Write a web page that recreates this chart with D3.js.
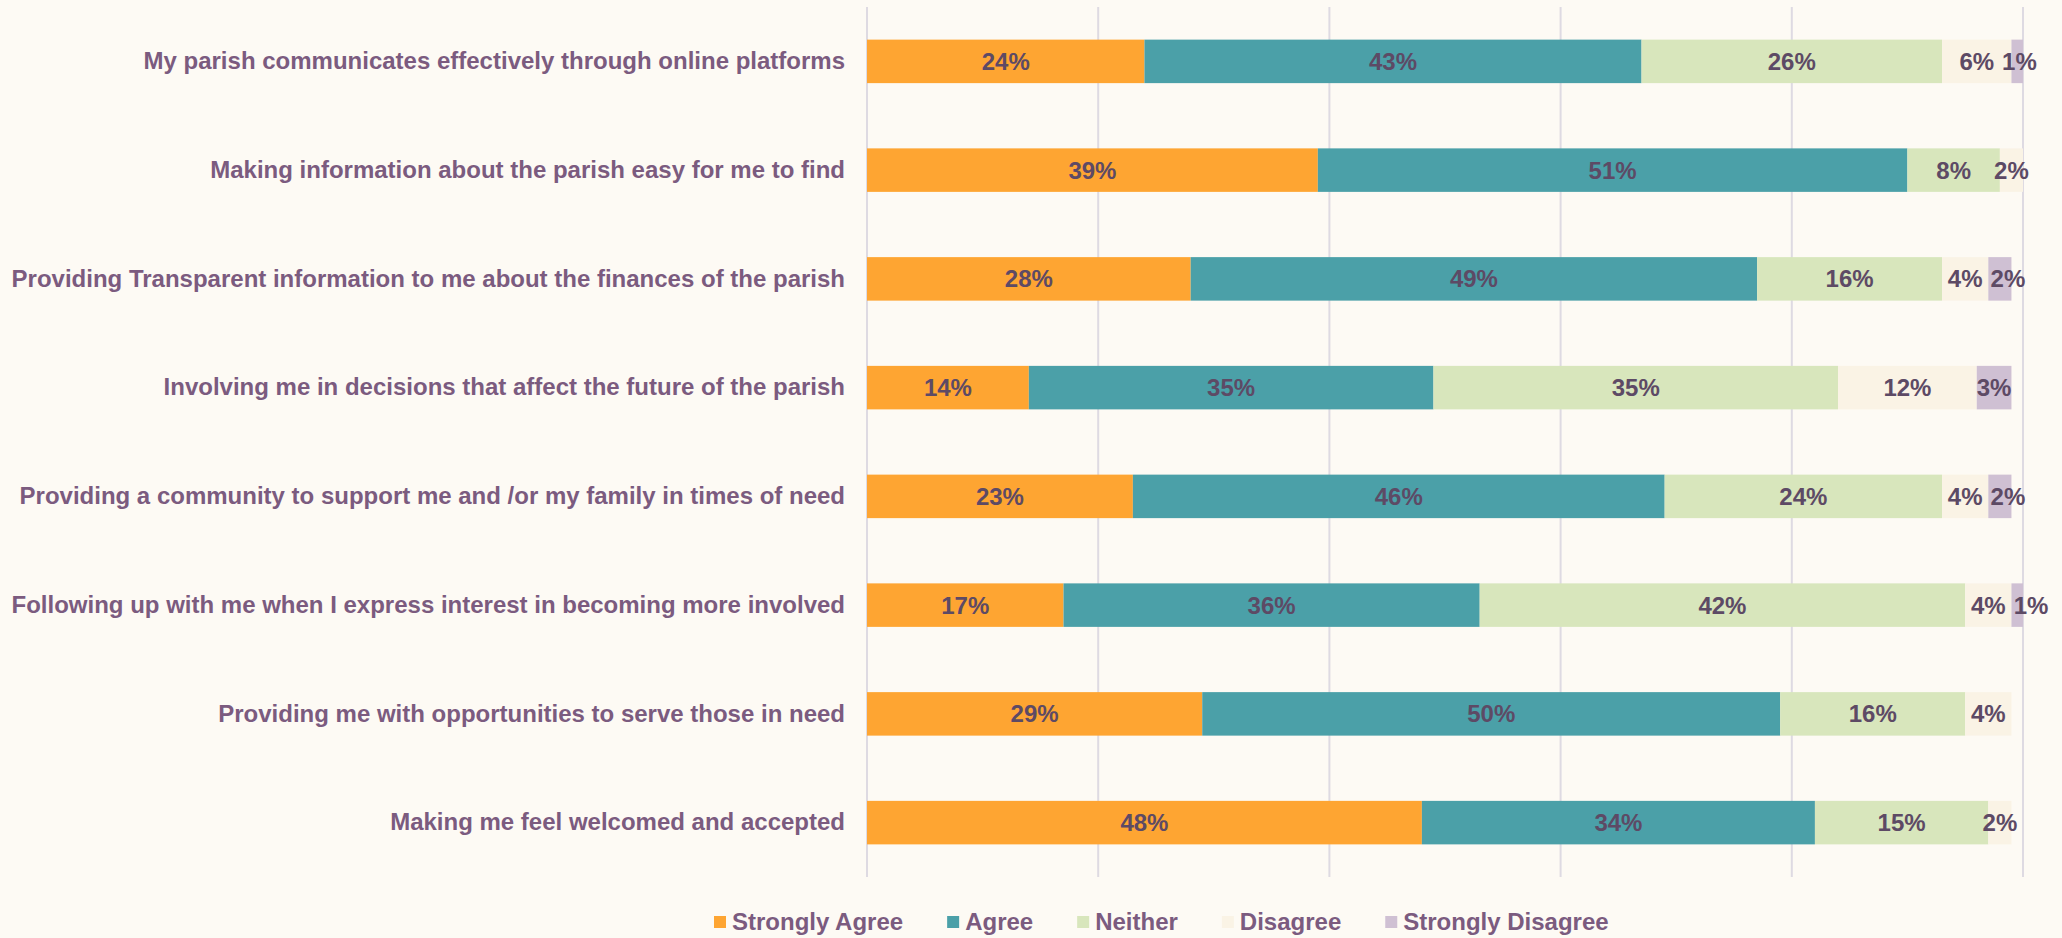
<!DOCTYPE html>
<html>
<head>
<meta charset="utf-8">
<script src="https://cdn.jsdelivr.net/npm/d3@7"></script>
<style>
	html, body { margin: 0; padding: 0; background: #fdfaf4; }
	svg { display: block; font-family: 'Liberation Sans', Arial, sans-serif; font-weight: bold; }
</style>
</head>
<body>
<div id="chart"></div>
<script>
const statements = [
	'My parish communicates effectively through online platforms',
	'Making information about the parish easy for me to find',
	'Providing Transparent information to me about the finances of the parish',
	'Involving me in decisions that affect the future of the parish',
	'Providing a community to support me and /or my family in times of need',
	'Following up with me when I express interest in becoming more involved',
	'Providing me with opportunities to serve those in need',
	'Making me feel welcomed and accepted'
];

const responses = ['Strongly Agree', 'Agree', 'Neither', 'Disagree', 'Strongly Disagree'];

const stronglyAgree = [24, 39, 28, 14, 23, 17, 29, 48];
const agree = [43, 51, 49, 35, 46, 36, 50, 34];
const neither = [26, 8, 16, 35, 24, 42, 16, 15];
const disagree = [6, 2, 4, 12, 4, 4, 4, 2];
const stronglyDisagree = [1, 0, 2, 3, 2, 1, 0, 0];

const colors = ['#fea532', '#4ba0a8', '#d8e6bc', '#faf3e5', '#cfc0d3'];

const width = 2062;
const height = 938;
const margin = { top: 7, right: 39, bottom: 61, left: 867 };

const series = [stronglyAgree, agree, neither, disagree, stronglyDisagree];

const rows = statements.map((s, i) => {
	const row = { statement: s };
	responses.forEach((r, k) => {
		row[r] = series[k][i];
	});
	return row;
});

const layers = d3.stack().keys(responses)(rows);

const svg = d3
	.select('#chart')
	.append('svg')
	.attr('width', width)
	.attr('height', height);

svg.append('rect').attr('width', width).attr('height', height).attr('fill', '#fdfaf4');

const x = d3
	.scaleLinear()
	.domain([0, 100])
	.range([margin.left, width - margin.right]);

const y = d3
	.scaleBand()
	.domain(statements)
	.range([margin.top, height - margin.bottom])
	.paddingInner(0.6)
	.paddingOuter(0.3);

// vertical gridlines every 20%
svg
	.append('g')
	.selectAll('line')
	.data(x.ticks(5))
	.enter()
	.append('line')
	.attr('x1', d => x(d))
	.attr('x2', d => x(d))
	.attr('y1', margin.top)
	.attr('y2', height - margin.bottom)
	.attr('stroke', '#dedae2')
	.attr('stroke-width', 2);

const groups = svg
	.append('g')
	.selectAll('g')
	.data(layers)
	.enter()
	.append('g')
	.attr('fill', (d, i) => colors[i]);

groups
	.selectAll('rect')
	.data(d => d)
	.enter()
	.append('rect')
	.attr('x', d => x(d[0]))
	.attr('y', d => y(d.data.statement))
	.attr('width', d => x(d[1]) - x(d[0]))
	.attr('height', y.bandwidth());

// value labels, centred in each segment, nudged right when they would collide
const labelLayer = svg.append('g');

rows.forEach((row, i) => {
	let prevEnd = -Infinity;

	layers.forEach(layer => {
		const d = layer[i];
		const value = row[layer.key];
		if (!value) return;

		const text = labelLayer
			.append('text')
			.attr('y', y(row.statement) + y.bandwidth() / 2)
			.attr('dy', '0.35em')
			.attr('text-anchor', 'middle')
			.attr('font-size', 24)
			.attr('fill', '#5d4a65')
			.text(`${value}%`);

		const w = text.node().getComputedTextLength();
		let cx = (x(d[0]) + x(d[1])) / 2;

		if (cx - w / 2 < prevEnd + 8) {
			cx = prevEnd + 8 + w / 2;
		}

		text.attr('x', cx);
		prevEnd = cx + w / 2;
	});
});

// category labels
const yAxis = d3.axisLeft(y).tickSize(0).tickPadding(22);

svg
	.append('g')
	.attr('transform', `translate(${margin.left},0)`)
	.call(yAxis)
	.call(g => g.select('.domain').remove())
	.selectAll('text')
	.attr('font-size', 24)
	.attr('font-family', "'Liberation Sans', Arial, sans-serif")
	.attr('font-weight', 'bold')
	.attr('fill', '#7b5b7f');

// legend
const legend = svg.append('g').attr('transform', 'translate(714,922)');
let offset = 0;

responses.forEach((r, i) => {
	const item = legend.append('g').attr('transform', `translate(${offset},0)`);

	item
		.append('rect')
		.attr('y', -6)
		.attr('width', 12)
		.attr('height', 12)
		.attr('fill', colors[i]);

	const label = item
		.append('text')
		.attr('x', 18)
		.attr('dy', '0.35em')
		.attr('font-size', 24)
		.attr('fill', '#7b5b7f')
		.text(r);

	offset += 18 + label.node().getComputedTextLength() + 44;
});
</script>
</body>
</html>
